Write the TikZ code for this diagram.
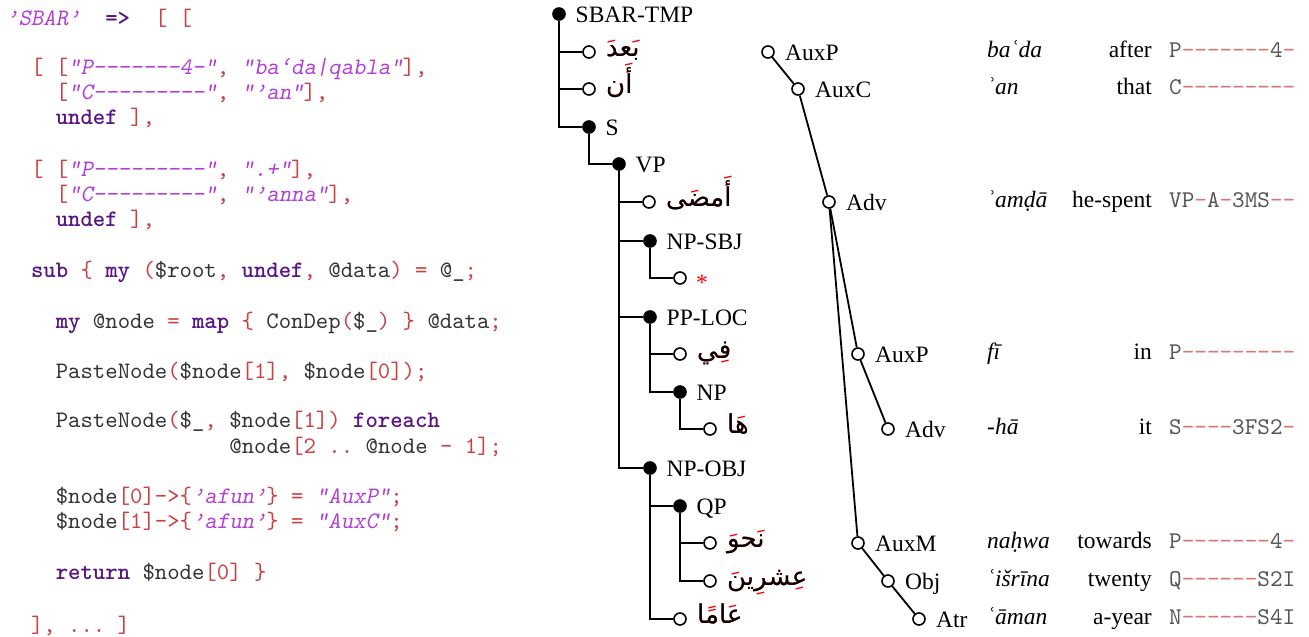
\documentclass[tikz,border=0pt]{standalone}
\usepackage{fontspec}
\setmainfont{Liberation Serif}
\setmonofont{lmmono10-regular.otf}[BoldFont=lmmonolt10-bold.otf,
  ItalicFont=lmmono10-regular.otf, ItalicFeatures={FakeSlant=0.2}]
\newfontfamily\arabicfont[Script=Arabic]{DejaVu Sans}
\TeXXeTstate=1

\definecolor{kwcol}{RGB}{88,20,130}
\definecolor{strcol}{RGB}{176,64,214}
\definecolor{brcol}{RGB}{204,64,64}
\definecolor{txtcol}{RGB}{51,51,51}
\definecolor{tagtxt}{RGB}{85,85,85}
\definecolor{tagdash}{RGB}{214,120,120}
\definecolor{markred}{RGB}{240,0,0}

% Perl syntax colouring
\newcommand\kw[1]{{\bfseries\color{kwcol}#1}}
\newcommand\st[1]{{\itshape\color{strcol}#1}}
\newcommand\br[1]{{\color{brcol}#1}}
% dashes of a positional tag
\newcommand\dsh[1]{{\color{tagdash}#1}}
% Arabic word: vowel marks in red under the bare letters in black
\newcommand\ArWord[2]{{\arabicfont\rlap{\color{markred}\beginR#1\endR}\beginR#2\endR}}

\begin{document}
\begin{tikzpicture}[x=1pt,y=-1pt,
  code/.style={anchor=base west, inner sep=0, text=txtcol,
    font=\ttfamily\fontsize{23.6}{26}\selectfont},
  tagtext/.style={code, text=tagtxt, font=\ttfamily\fontsize{24}{26}\selectfont},
  lbl/.style={anchor=base west, inner sep=0, font=\fontsize{23.5}{28}\selectfont},
  trl/.style={anchor=base west, inner sep=0, font=\fontsize{23.5}{28}\selectfont\itshape},
  gls/.style={anchor=base east, inner sep=0, font=\fontsize{23.5}{28}\selectfont},
  arab/.style={anchor=base west, inner sep=0, font=\fontsize{26}{30}\selectfont},
  phr/.style={circle, draw, fill=black, inner sep=0, minimum size=12pt, line width=1.6pt},
  lf/.style={circle, draw, fill=white, inner sep=0, minimum size=12pt, line width=1.6pt},
  edge/.style={line width=1.8pt}]
\useasboundingbox (0,0) rectangle (1309,637);

% ---------- Perl rule ----------
\node[code] (l1)  at (6,25)     {\st{’SBAR’}~~\kw{=>}~~\br{[ [}};
\node[code] (l2)  at (30.8,74)  {\br{[ [}\st{"P-------4-"}\br{,} \st{"ba‘da|qabla"}\br{],}};
\node[code] (l3)  at (55.6,99)  {\br{[}\st{"C---------"}\br{,} \st{"’an"}\br{],}};
\node[code] (l4)  at (55.6,124) {\kw{undef} \br{],}};
\node[code] (l5)  at (30.8,176) {\br{[ [}\st{"P---------"}\br{,} \st{".+"}\br{],}};
\node[code] (l6)  at (55.6,201) {\br{[}\st{"C---------"}\br{,} \st{"’anna"}\br{],}};
\node[code] (l7)  at (55.6,226) {\kw{undef} \br{],}};
\node[code] (l8)  at (30.8,277) {\kw{sub} \br{\{} \kw{my} \br{(}\$root\br{,} \kw{undef}\br{,} @data\br{)} \br{=} @\_\br{;}};
\node[code] (l9)  at (55.6,328) {\kw{my} @node \br{=} \kw{map} \br{\{} ConDep\br{(}\$\_\br{)} \br{\}} @data\br{;}};
\node[code] (l10) at (55.6,378) {PasteNode\br{(}\$node\br{[1],} \$node\br{[0]);}};
\node[code] (l11) at (55.6,427) {PasteNode\br{(}\$\_\br{,} \$node\br{[1])} \kw{foreach}};
\node[code] (l12) at (229.2,453) {@node\br{[2 ..} @node \br{- 1];}};
\node[code] (l13) at (55.6,503) {\$node\br{[0]->\{}\st{’afun’}\br{\}} \br{=} \st{"AuxP"}\br{;}};
\node[code] (l14) at (55.6,528) {\$node\br{[1]->\{}\st{’afun’}\br{\}} \br{=} \st{"AuxC"}\br{;}};
\node[code] (l15) at (55.6,579) {\kw{return} \$node\br{[0]} \br{\}}};
\node[code] (l16) at (30.8,632) {\br{], ... ]}};

% ---------- constituency tree ----------
\node[phr] (sbar)    at (559,14)  {};
\node[lf]  (bada)    at (589,52)  {};
\node[lf]  (an)      at (589,89)  {};
\node[phr] (s)       at (589,127) {};
\node[phr] (vp)      at (619,164) {};
\node[lf]  (amda)    at (649,202) {};
\node[phr] (npsbj)   at (650,241) {};
\node[lf]  (trace)   at (680,278) {};
\node[phr] (pploc)   at (650,317) {};
\node[lf]  (fi)      at (680,354) {};
\node[phr] (np)      at (680,392) {};
\node[lf]  (ha)      at (710,429) {};
\node[phr] (npobj)   at (650,468) {};
\node[phr] (qp)      at (680,506) {};
\node[lf]  (nahwa)   at (710,543) {};
\node[lf]  (ishrina) at (710,581) {};
\node[lf]  (aman)    at (680,619) {};

\draw[edge] (sbar) |- (bada);
\draw[edge] (sbar) |- (an);
\draw[edge] (sbar) |- (s);
\draw[edge] (s) |- (vp);
\draw[edge] (vp) |- (amda);
\draw[edge] (vp) |- (npsbj);
\draw[edge] (vp) |- (pploc);
\draw[edge] (vp) |- (npobj);
\draw[edge] (npsbj) |- (trace);
\draw[edge] (pploc) |- (fi);
\draw[edge] (pploc) |- (np);
\draw[edge] (np) |- (ha);
\draw[edge] (npobj) |- (qp);
\draw[edge] (npobj) |- (aman);
\draw[edge] (qp) |- (nahwa);
\draw[edge] (qp) |- (ishrina);

\node[lbl] (tsbar)  at (575.5,22.5) {SBAR-TMP};
\node[lbl] (ts)     at (605.5,135.5) {S};
\node[lbl] (tvp)    at (635.5,172.5) {VP};
\node[lbl] (tnpsbj) at (666.5,249.5) {NP-SBJ};
\node[lbl] (tpploc) at (666.5,325.5) {PP-LOC};
\node[lbl] (tnp)    at (696.5,400.5) {NP};
\node[lbl] (tnpobj) at (666.5,476.5) {NP-OBJ};
\node[lbl] (tqp)    at (696.5,514.5) {QP};

\node[arab] (wbada)    at (606,56)  {\ArWord{بَعدَ}{بعد}};
\node[arab] (wan)      at (606,93)  {\ArWord{أَن}{أن}};
\node[arab] (wamda)    at (666,206) {\ArWord{أَمضَى}{أمضى}};
\node[lbl, anchor=base, text=red] (wtrace) at (702,290) {*};
\node[arab] (wfi)      at (697,358) {\ArWord{فِي}{في}};
\node[arab] (wha)      at (727,433) {\ArWord{هَا}{ها}};
\node[arab] (wnahwa)   at (727,547) {\ArWord{نَحوَ}{نحو}};
\node[arab] (wishrina) at (727,585) {\ArWord{عِشرِينَ}{عشرين}};
\node[arab] (waman)    at (697,623) {\ArWord{عَامًا}{عاما}};

% ---------- dependency tree ----------
\node[lf] (d1) at (768,52)  {};
\node[lf] (d2) at (798,89)  {};
\node[lf] (d3) at (829,202) {};
\node[lf] (d4) at (858,354) {};
\node[lf] (d5) at (888,429) {};
\node[lf] (d6) at (858,543) {};
\node[lf] (d7) at (888,581) {};
\node[lf] (d8) at (919,619) {};

\draw[edge] (d1) -- (d2);
\draw[edge] (d2) -- (d3);
\draw[edge] (d3) -- (d4);
\draw[edge] (d4) -- (d5);
\draw[edge] (d3) -- (d6);
\draw[edge] (d6) -- (d7);
\draw[edge] (d7) -- (d8);

\node[lbl] (f1) at (785,60)  {AuxP};
\node[lbl] (f2) at (815,97)  {AuxC};
\node[lbl] (f3) at (846,210) {Adv};
\node[lbl] (f4) at (875,362) {AuxP};
\node[lbl] (f5) at (905,437) {Adv};
\node[lbl] (f6) at (875,551) {AuxM};
\node[lbl] (f7) at (905,589) {Obj};
\node[lbl] (f8) at (936,627) {Atr};

% ---------- transliteration, gloss, tag ----------
\node[trl] (r1) at (987,57.5)  {baʿda};
\node[trl] (r2) at (987,94.5)  {ʾan};
\node[trl] (r3) at (987,207.5) {ʾamḍā};
\node[trl] (r4) at (987,359.5) {fī};
\node[trl] (r5) at (987,434.5) {-hā};
\node[trl] (r6) at (987,548.5) {naḥwa};
\node[trl] (r7) at (987,586.5) {ʿišrīna};
\node[trl] (r8) at (987,624.5) {ʿāman};

\node[gls] (g1) at (1152,57.5)  {after};
\node[gls] (g2) at (1152,94.5)  {that};
\node[gls] (g3) at (1152,207.5) {he-spent};
\node[gls] (g4) at (1152,359.5) {in};
\node[gls] (g5) at (1152,434.5) {it};
\node[gls] (g6) at (1152,548.5) {towards};
\node[gls] (g7) at (1152,586.5) {twenty};
\node[gls] (g8) at (1152,624.5) {a-year};

\node[tagtext] (p1) at (1169,57.5)  {P\dsh{-------}4\dsh{-}};
\node[tagtext] (p2) at (1169,94.5)  {C\dsh{---------}};
\node[tagtext] (p3) at (1169,207.5) {VP\dsh{-}A\dsh{-}3MS\dsh{--}};
\node[tagtext] (p4) at (1169,359.5) {P\dsh{---------}};
\node[tagtext] (p5) at (1169,434.5) {S\dsh{----}3FS2\dsh{-}};
\node[tagtext] (p6) at (1169,548.5) {P\dsh{-------}4\dsh{-}};
\node[tagtext] (p7) at (1169,586.5) {Q\dsh{------}S2I};
\node[tagtext] (p8) at (1169,624.5) {N\dsh{------}S4I};
\end{tikzpicture}
\end{document}
